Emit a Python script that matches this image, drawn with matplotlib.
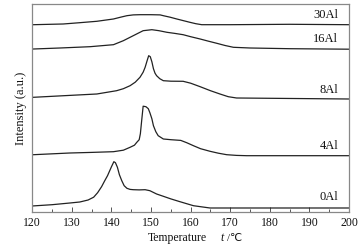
import matplotlib
matplotlib.use("Agg")
import matplotlib.pyplot as plt
from matplotlib.ticker import MultipleLocator

plt.rcParams['font.family'] = ['Liberation Serif', 'DejaVu Sans']

# Temperature (°C) and intensity (a.u., offset curves)
t_0al = [120.3, 125, 129.5, 132.0, 134.1, 135.5, 136.5, 137.5, 138.3, 139.0, 140.0, 140.6, 141.0, 141.5,
         142.0, 142.6, 143.2, 143.9, 144.7, 145.5, 147.0, 148.5, 149.7, 151.4, 153.1, 155.0, 157.3,
         159.0, 160.7, 162.5, 164.9, 200]
i_0al = [5.8, 7.0, 8.7, 9.7, 11.7, 14.5, 19, 25, 31, 36, 45, 50, 49, 44.4, 37, 31, 26, 23.4, 22.3, 22,
         21.8, 22, 21, 17.7, 15.4, 12.8, 10, 8, 6, 5, 3.7, 3.7]

t_4al = [120.3, 129.5, 135, 140.5, 143, 144.7, 145.8, 146.4, 147.0, 147.3, 147.6, 148.0, 148.7, 149.3,
         149.7, 150.2, 150.6, 151.2, 151.8, 153.1, 155, 157.5, 159, 160.7, 162.5, 164.9, 167, 169.1,
         171.6, 174.2, 200]
i_4al = [57, 58.7, 59.3, 60, 61.5, 64.4, 66.5, 69.4, 72, 78, 90, 105.5, 105, 103, 99, 93, 86, 80, 76,
         72.7, 72, 71.3, 69, 66, 63, 60.4, 58.5, 57, 56.3, 56, 56]

t_8al = [120.3, 128, 136.3, 141.3, 143, 144.7, 146.0, 147.2, 148.0, 148.5, 149.0, 149.4, 149.8, 150.2,
         150.6, 151.0, 151.4, 152.2, 153.1, 155, 158.1, 160, 162.4, 165, 167.4, 169.5, 171.6, 200]
i_8al = [114.4, 116, 117.7, 121, 123, 126, 129.5, 134.4, 139.5, 144.4, 151, 156, 155, 150, 143, 138.5,
         136, 133, 131, 130.5, 130.4, 128.5, 125, 121, 117.7, 115, 113.7, 112.7]

t_16al = [120.3, 127, 134.6, 140.5, 143, 145.5, 148, 150.2, 152, 154, 156, 158.1, 160, 162.4, 164.5,
          166.6, 168.7, 170.8, 175, 185, 200]
i_16al = [162.7, 163.7, 165, 167, 171, 176, 181, 182, 181, 179.4, 178.3, 177, 175, 172.7, 170.5, 168.4,
          166.2, 164.4, 163.7, 163, 162.5]

t_30al = [120.3, 127.8, 132, 136.3, 140.5, 142.3, 143.9, 145.5, 147.2, 150, 152.3, 153.1, 154.8, 156.5,
          158.2, 159.8, 161.3, 162.8, 170, 185, 200]
i_30al = [187, 187.7, 189, 190.4, 192.7, 194.5, 196, 196.8, 197, 197, 196.8, 196, 194.5, 192.7, 191,
          189.4, 188, 187, 187, 187.4, 187]

labels = ['0Al', '4Al', '8Al', '16Al', '30Al']
label_y = [15.7, 66.9, 123.0, 173.2, 197.2]
series = [(t_0al, i_0al), (t_4al, i_4al), (t_8al, i_8al), (t_16al, i_16al), (t_30al, i_30al)]

fig = plt.figure(figsize=(3.63, 2.51), dpi=100)
ax = fig.add_axes([0.089, 0.1526, 0.8724, 0.8287])

for (t, v) in series:
    ax.plot(t, v, color='#222222', lw=0.9)

for lab, ly in zip(labels, label_y):
    ax.text(197.3, ly, lab, ha='right', va='center', fontsize=9, color='#111111')

ax.set_xlim(120, 200)
ax.set_ylim(0, 208)
ax.xaxis.set_major_locator(MultipleLocator(10))
ax.xaxis.set_minor_locator(MultipleLocator(5))
ax.tick_params(axis='x', which='major', direction='in', length=3.6, width=0.7, colors='#555555',
               labelcolor='#111111', labelsize=8.5, pad=3, top=False)
ax.tick_params(axis='x', which='minor', direction='in', length=2.2, width=0.7, colors='#555555', top=False)
ax.set_yticks([])
for s in ax.spines.values():
    s.set_color('#888888')
    s.set_linewidth(0.9)

ax.set_ylabel('Intensity (a.u.)', fontsize=9, labelpad=4, color='#111111')

# x-axis label built from pieces: "Temperature   t /℃" (t in italic)
fig.text(0.570, 0.038, 'Temperature', ha='right', va='baseline', fontsize=8.5, color='#111111')
fig.text(0.611, 0.038, 't', ha='center', va='baseline', fontsize=8.5, style='italic', color='#111111')
fig.text(0.624, 0.038, '/\u2103', ha='left', va='baseline', fontsize=7.8, color='#111111',
         family=['Liberation Serif', 'DejaVu Sans'])

fig.savefig('out.png', dpi=100)
